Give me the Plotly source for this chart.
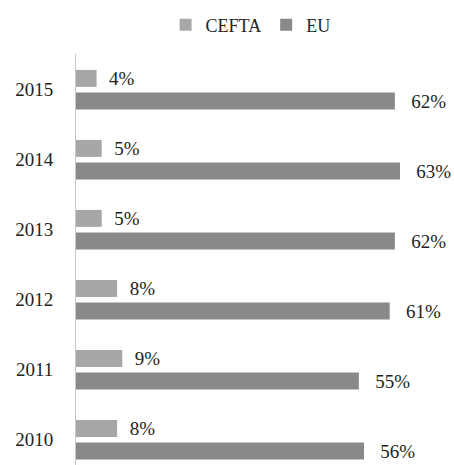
import plotly.graph_objects as go

years = ["2010", "2011", "2012", "2013", "2014", "2015"]
cefta = [8, 9, 8, 5, 5, 4]
eu = [56, 55, 61, 62, 63, 62]

C_CEFTA = "#a7a7a9"
C_EU = "#88898b"
FONT = "Liberation Serif"
TXT = "#231f20"
NB = "\u00a0"

fig = go.Figure()
fig.add_trace(go.Bar(name="EU", y=years, x=eu, orientation="h", legendrank=2,
                     marker=dict(color=C_EU, line=dict(width=0)),
                     texttemplate=NB * 2 + "\u2009%{x}%", textposition="outside",
                     constraintext="none", cliponaxis=False,
                     textfont=dict(family=FONT, size=19, color=TXT)))
fig.add_trace(go.Bar(name="CEFTA", y=years, x=cefta, orientation="h", legendrank=1,
                     marker=dict(color=C_CEFTA, line=dict(width=0)),
                     texttemplate=NB * 2 + "%{x}%", textposition="outside",
                     constraintext="none", cliponaxis=False,
                     textfont=dict(family=FONT, size=19, color=TXT)))

fig.update_layout(
    width=454, height=465,
    margin=dict(l=76, r=0, t=54, b=0),
    plot_bgcolor="white", paper_bgcolor="white",
    barmode="group", bargap=0.354, bargroupgap=0.25,
    font=dict(family=FONT, size=19, color=TXT),
    showlegend=True,
    legend=dict(orientation="h", x=0.552, xanchor="center", xref="container",
                y=1 - 25 / 465, yref="container", yanchor="middle",
                font=dict(family=FONT, size=18, color=TXT),
                itemwidth=30, bgcolor="rgba(0,0,0,0)"),
    xaxis=dict(range=[0, 73.5], showticklabels=False, showline=False, ticks="",
               showgrid=False, zeroline=False, automargin=False),
    yaxis=dict(type="category", categoryorder="array", categoryarray=years,
               range=[-0.361, 5.51], showgrid=False, zeroline=False,
               showline=True, linecolor="#c8c8c8", linewidth=1,
               ticks="", ticklabelstandoff=18, automargin=False,
               tickfont=dict(family=FONT, size=19, color=TXT)),
)
fig.write_html("out.html",
               config={"displayModeBar": False},
               post_script="document.body.style.margin='0';"
                           "document.body.style.overflow='hidden';")
